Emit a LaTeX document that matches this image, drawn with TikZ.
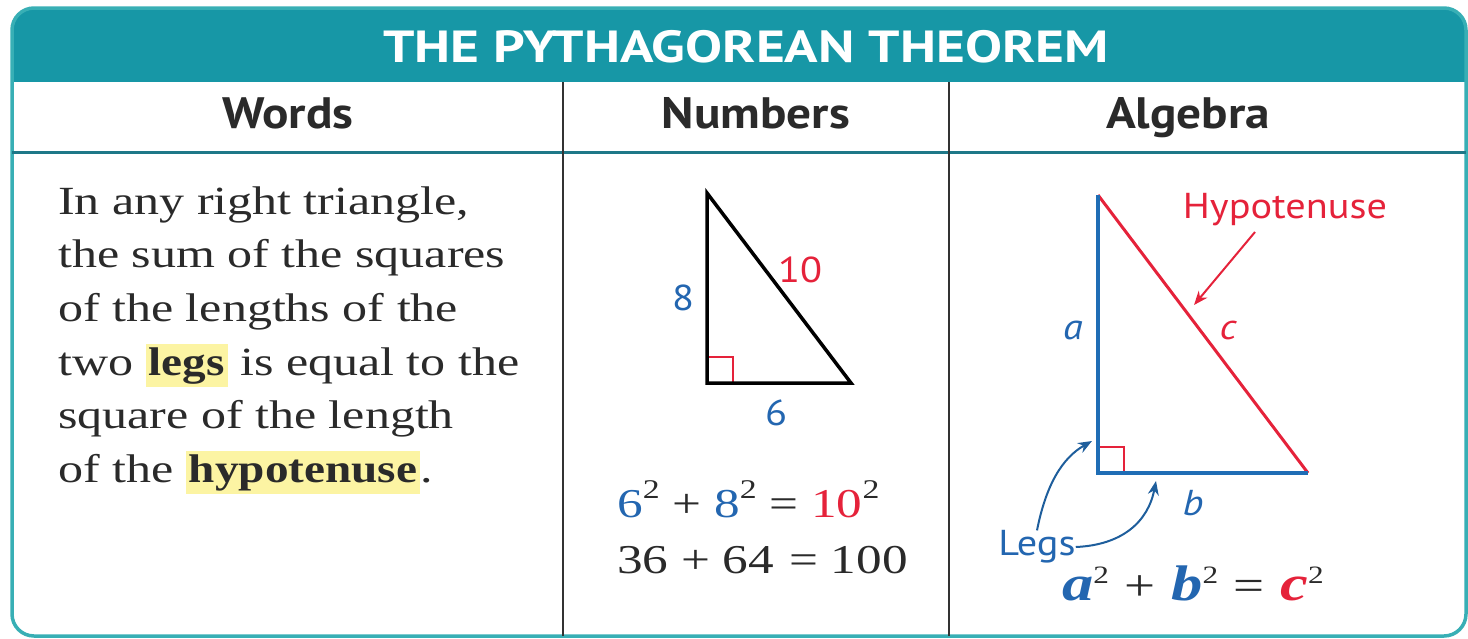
\documentclass[tikz,border=0pt]{standalone}
\usepackage{fontspec}
\setmainfont{Liberation Serif}[FakeStretch=1.25, BoldFeatures={FakeStretch=1.18}]
\newfontfamily\titlef{PT Sans}[FakeStretch=1.23]
\newfontfamily\headf{PT Sans}[FakeStretch=1.12]
\newfontfamily\labf{PT Sans}[FakeStretch=1.12]
\usetikzlibrary{arrows.meta}
\definecolor{headc}{HTML}{1797A6}
\definecolor{bordc}{HTML}{38AFB5}
\definecolor{linec}{HTML}{1E7888}
\definecolor{blu}{HTML}{2366B0}
\definecolor{legblu}{HTML}{1F6DB5}
\definecolor{arrblu}{HTML}{1E5E9C}
\definecolor{rd}{HTML}{E5223A}
\definecolor{hly}{HTML}{FCF4A3}
\definecolor{txt}{HTML}{2A2A2A}
\newcommand\hlword[1]{{\setlength\fboxsep{3pt}\colorbox{hly}{\bfseries #1}}}
\newcommand\numsq{\raisebox{19pt}{\fontsize{27}{27}\selectfont 2}}
\newcommand\algsq{\raisebox{17pt}{\mdseries\upshape\fontsize{25}{25}\selectfont 2}}
\tikzset{
  title/.style={font=\titlef\bfseries\fontsize{45}{48}\selectfont, text=white, inner sep=0pt, anchor=base},
  colhead/.style={font=\headf\bfseries\fontsize{44}{48}\selectfont, text=txt, inner sep=0pt, anchor=base},
  body/.style={font=\fontsize{40}{54}\selectfont, text=txt, inner sep=0pt, anchor=base west},
  lab/.style={font=\labf\fontsize{36}{40}\selectfont, inner sep=0pt},
  ilab/.style={font=\labf\itshape\fontsize{36}{40}\selectfont, inner sep=0pt},
  eqn/.style={font=\fontsize{41}{48}\selectfont, text=txt, inner sep=0pt, anchor=base west},
  aeqn/.style={font=\fontsize{50}{56}\selectfont, text=txt, inner sep=0pt, anchor=base west},
}
\begin{document}
\begin{tikzpicture}[x=1pt,y=-1pt]
\useasboundingbox (0,0) rectangle (1468,638);
% frame
\begin{scope}
  \clip[rounded corners=22pt] (12,8) rectangle (1466,636);
  \fill[headc] (12,8) rectangle (1466,82);
\end{scope}
\draw[bordc, line width=3.5pt, rounded corners=22pt] (12,8) rectangle (1466,636);
\draw[linec, line width=3pt] (12,152) -- (1466,152);
\draw[black!80, line width=2pt] (563,82) -- (563,636);
\draw[black!80, line width=2pt] (949,82) -- (949,636);
% headings
\node[title] (ttl) at (746,62) {THE PYTHAGOREAN THEOREM};
\node[colhead] (hw) at (288,128) {Words};
\node[colhead] (hn) at (756,128) {Numbers};
\node[colhead] (ha) at (1188,128) {Algebra};
% words
\node[body] (w1) at (58,214) {In any right triangle,};
\node[body] (w2) at (58,267) {the sum of the squares};
\node[body] (w3) at (58,321) {of the lengths of the};
\node[body] (w4) at (58,375) {two \hlword{legs} is equal to the};
\node[body] (w5) at (58,428) {square of the length};
\node[body] (w6) at (58,482) {of the \hlword{hypotenuse}.};
% numbers triangle
\coordinate (n1) at (707,193);
\coordinate (n2) at (707,383);
\coordinate (n3) at (851,383);
\draw[rd, line width=1.5pt] (707,357) -- (733,357) -- (733,383);
\draw[black, line width=3.5pt, line join=miter] (n1) -- (n2) -- (n3) -- cycle;
\node[lab, text=blu] (l8) at (683,298) {8};
\node[lab, text=rd] (l10) at (800,270) {10};
\node[lab, text=blu] (l6) at (776,413) {6};
\node[eqn] (e1) at (617,517) {\textcolor{blu}{6}\numsq{} + \textcolor{blu}{8}\numsq{} = \textcolor{rd}{10}\numsq};
\node[eqn] (e2) at (617,573) {36 + 64\hspace{2pt} = 100};
% algebra triangle
\coordinate (a1) at (1098,195);
\coordinate (a2) at (1098,473);
\coordinate (a3) at (1308,473);
\draw[rd, line width=1.5pt] (1098,447) -- (1124,447) -- (1124,473);
\draw[rd, line width=3pt] (a1) -- (a3);
\draw[legblu, line width=4pt, line join=miter] (a1) -- (a2) -- (a3);
\node[ilab, text=blu] (la) at (1073,330) {a};
\node[ilab, text=rd] (lc) at (1228,330) {c};
\node[ilab, text=blu] (lb) at (1193,503) {b};
\node[lab, text=rd] (hyp) at (1285,210) {Hypotenuse};
\coordinate (hypend) at (1194,305);
\draw[rd, line width=2pt, -{Stealth[length=14pt,width=11pt]}] (1255,232) -- (hypend);
\node[lab, text=blu] (legs) at (1037,547) {Legs};
\coordinate (leg1) at (1092,441);
\coordinate (leg2) at (1156,481);
\draw[arrblu, line width=2pt, -{Stealth[length=14pt,width=11pt]}] (legs.north) .. controls (1046,485) and (1062,458) .. (leg1);
\draw[arrblu, line width=2pt, -{Stealth[length=14pt,width=11pt]}] (legs.east) .. controls (1122,545) and (1148,522) .. (leg2);
\node[aeqn] (e3) at (1062,600) {\textbf{\textit{\textcolor{blu}{a}}}\algsq{} {\fontsize{44}{50}\selectfont +} \textbf{\textit{\textcolor{blu}{b}}}\algsq{} {\fontsize{44}{50}\selectfont =} \textbf{\textit{\textcolor{rd}{c}}}\algsq};
\end{tikzpicture}
\end{document}
